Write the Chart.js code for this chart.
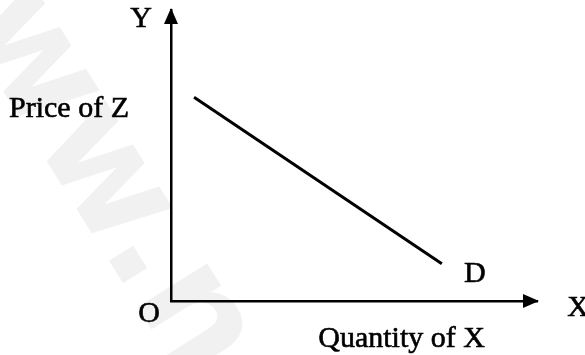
<!DOCTYPE html>
<html>
<head>
<meta charset="utf-8">
<script src="https://cdn.jsdelivr.net/npm/chart.js@4.4.0/dist/chart.umd.min.js"></script>
<style>
  html, body { margin:0; padding:0; background:#fff; }
  #wrap { width:585px; height:355px; position:relative; }
</style>
</head>
<body>
<div id="wrap"><canvas id="c" width="585" height="355"></canvas></div>
<script>
// demand curve D: price of Z against quantity of X
var quantityX = [0.63, 7.4];
var priceZ = [7.0, 1.28];
var yTitle = "Price of Z";
var xTitle = "Quantity of X";

var SERIF = "'Liberation Serif', 'DejaVu Serif', serif";

function label(ctx, txt, px, py){
  ctx.fillText(txt, px, py);
  ctx.strokeText(txt, px, py);
}

// arrows on the axis ends + text labels + faint watermark
var diagram = {
  id: "diagram",
  beforeDraw: function(chart){
    var ctx = chart.ctx;
    ctx.save();
    ctx.translate(106, 256);
    ctx.rotate(58 * Math.PI / 180);
    ctx.fillStyle = "#f1f1f1";
    ctx.font = "bold 150px 'DejaVu Sans', sans-serif";
    ctx.textBaseline = "alphabetic";
    var w = ctx.measureText("www").width;
    ctx.fillText("www.nc", -w, 0);
    ctx.restore();
  },
  afterDraw: function(chart){
    var ctx = chart.ctx, x = chart.scales.x, y = chart.scales.y;
    var x0 = x.getPixelForValue(x.min), x1 = x.getPixelForValue(x.max);
    var y0 = y.getPixelForValue(y.min), y1 = y.getPixelForValue(y.max);
    ctx.save();
    ctx.fillStyle = "#000";
    ctx.strokeStyle = "#000";
    ctx.lineWidth = 0.6;
    // y arrow
    ctx.beginPath();
    ctx.moveTo(x0, y1 - 2); ctx.lineTo(x0 - 7, y1 + 14); ctx.lineTo(x0 + 7, y1 + 14); ctx.closePath(); ctx.fill();
    // x arrow
    ctx.beginPath();
    ctx.moveTo(x1 + 2, y0); ctx.lineTo(x1 - 14, y0 - 7); ctx.lineTo(x1 - 14, y0 + 7); ctx.closePath(); ctx.fill();

    ctx.font = "30px " + SERIF;
    ctx.textBaseline = "middle";
    ctx.textAlign = "center";
    label(ctx, "Y", x0 - 30, y1 + 9);
    label(ctx, "X", x1 + 41, y0 + 7);
    label(ctx, "O", x0 - 22, y0 + 13);
    label(ctx, "D", x.getPixelForValue(quantityX[1]) + 33, y.getPixelForValue(priceZ[1]) + 10);
    label(ctx, xTitle, x.getPixelForValue(6.3), y0 + 38);
    ctx.textAlign = "left";
    label(ctx, yTitle, 9, y.getPixelForValue(6.6));
    ctx.restore();
  }
};

var axisOpts = {
  type: "linear", min: 0, max: 10,
  grid: { display: false, drawTicks: false },
  ticks: { display: false },
  border: { display: true, color: "#000", width: 2.5 }
};

new Chart(document.getElementById("c"), {
  type: "scatter",
  data: {
    datasets: [{
      data: quantityX.map(function(q, i){ return { x: q, y: priceZ[i] }; }),
      showLine: true,
      borderColor: "#000",
      borderWidth: 3,
      pointRadius: 0,
      fill: false
    }]
  },
  options: {
    responsive: false,
    animation: false,
    layout: { padding: { left: 171, right: 48, top: 10, bottom: 54 } },
    plugins: { legend: { display: false }, tooltip: { enabled: false } },
    scales: {
      x: Object.assign({}, axisOpts),
      y: Object.assign({}, axisOpts)
    }
  },
  plugins: [diagram]
});
</script>
</body>
</html>
